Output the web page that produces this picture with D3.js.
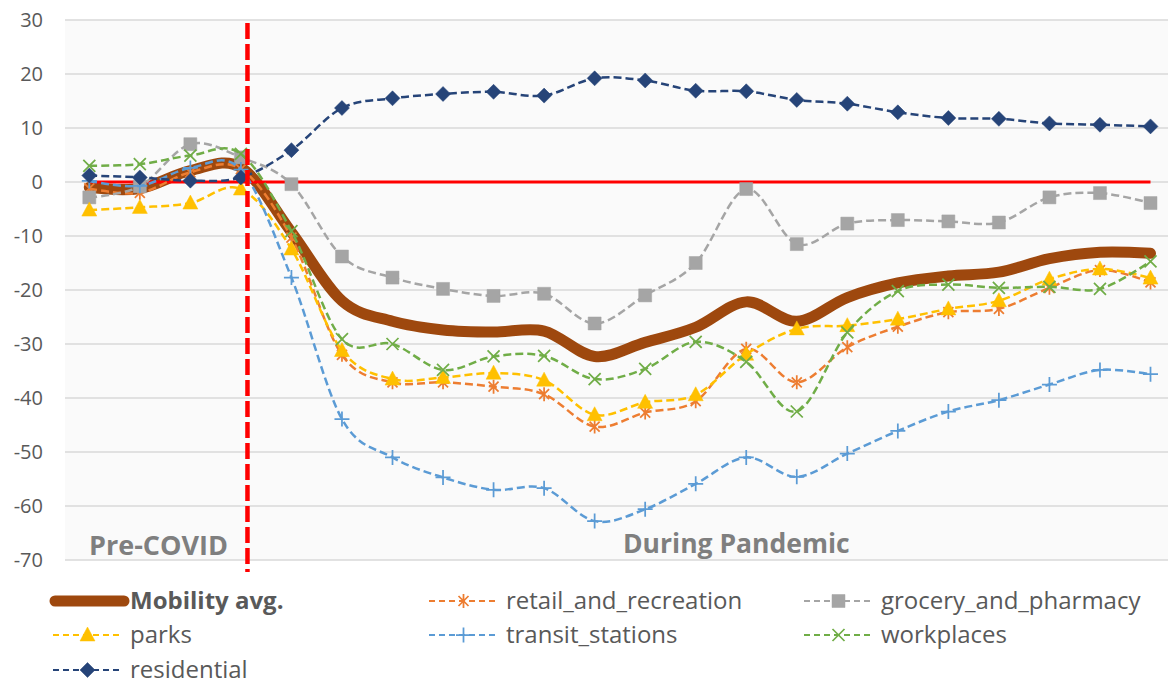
<!DOCTYPE html>
<html>
<head>
<meta charset="utf-8">
<script src="https://cdn.jsdelivr.net/npm/d3@7"></script>
<style>
  body { margin: 0; background: #fff; }
  svg { font-family: "Open Sans", sans-serif; }
</style>
</head>
<body>
<svg></svg>
<script>
// Data
var w = 1168,
    h = 684;

var periods = [1, 2, 3, 4, 5, 6, 7, 8, 9, 10, 11,
    12, 13, 14, 15, 16, 17, 18, 19, 20, 21, 22];
var yTicks = [30, 20, 10, 0, -10, -20, -30, -40, -50, -60, -70];

var mobility = [-1.0, -1.2, 2.1, 2.7, -9.3, -22.0, -25.8, -27.4, -27.8, -27.6, -32.3,
    -29.7, -26.9, -22.2, -25.8, -21.4, -18.7, -17.4, -16.7, -14.2, -13.0, -13.2];
var retail = [-1.2, -2.0, 1.8, 2.4, -10.3, -32.0, -37.1, -37.1, -37.9, -39.3, -45.3,
    -42.7, -40.6, -30.9, -37.1, -30.6, -26.8, -24.1, -23.5, -19.6, -16.3, -18.6];
var grocery = [-2.85, -0.8, 7.0, 4.55, -0.4, -13.8, -17.7, -19.8, -21.1, -20.7, -26.2,
    -21.0, -15.0, -1.3, -11.5, -7.7, -7.05, -7.3, -7.5, -2.85, -2.05, -3.9];
var parks = [-5.2, -4.7, -3.9, -1.3, -12.4, -31.2, -36.5, -36.2, -35.4, -36.7, -43.1,
    -40.8, -39.4, -31.9, -27.2, -26.6, -25.4, -23.5, -22.0, -18.0, -16.1, -17.8];
var transit = [0.2, -0.7, 2.6, 2.3, -17.7, -43.9, -51.0, -54.7, -57.0, -56.7, -62.8,
    -60.6, -55.9, -51.0, -54.6, -50.3, -46.1, -42.5, -40.4, -37.5, -34.8, -35.6];
var workplaces = [3.0, 3.3, 4.9, 5.2, -9.1, -29.1, -30.0, -34.8, -32.3, -32.2, -36.5,
    -34.6, -29.6, -33.3, -42.5, -27.85, -20.2, -19.0, -19.6, -19.4, -19.8, -14.7];
var residential = [1.2, 0.85, 0.25, 0.85, 5.9, 13.7, 15.5, 16.3, 16.7, 16.0, 19.2,
    18.8, 16.9, 16.8, 15.2, 14.5, 12.9, 11.85, 11.7, 10.85, 10.6, 10.3];
var baseline = [0, 0, 0, 0, 0, 0, 0, 0, 0, 0, 0,
    0, 0, 0, 0, 0, 0, 0, 0, 0, 0, 0];
var splitAt = 3.13; // pandemic start, between period 4 and 5

var series = [
    { name: 'retail_and_recreation', values: retail, color: '#ed7d31', marker: 'star' },
    { name: 'grocery_and_pharmacy', values: grocery, color: '#a5a5a5', marker: 'square' },
    { name: 'parks', values: parks, color: '#ffc000', marker: 'triangle' },
    { name: 'transit_stations', values: transit, color: '#5b9bd5', marker: 'plus' },
    { name: 'workplaces', values: workplaces, color: '#70ad47', marker: 'cross' },
    { name: 'residential', values: residential, color: '#264478', marker: 'diamond' }
];

var svg = d3.select('svg')
    .attr('width', w)
    .attr('height', h);

var plot = { left: 65, right: 1168, top: 20, bottom: 560 };

var xScale = d3.scaleLinear()
    .domain([0, periods.length - 1])
    .range([89.3, 1150.5]);
var yScale = d3.scaleLinear()
    .domain([-70, 30])
    .range([plot.bottom, plot.top]);

// Fondo y rejilla
svg.append('rect')
    .attr('x', plot.left)
    .attr('y', plot.top)
    .attr('width', plot.right - plot.left)
    .attr('height', plot.bottom - plot.top)
    .attr('fill', '#fafafa');

svg.selectAll('line.grid')
    .data(yTicks)
    .enter()
    .append('line')
    .attr('class', 'grid')
    .attr('x1', plot.left)
    .attr('x2', plot.right)
    .attr('y1', function(d) { return yScale(d); })
    .attr('y2', function(d) { return yScale(d); })
    .attr('stroke', '#d9d9d9')
    .attr('stroke-width', 1.5);

var yAxis = svg.append('g')
    .attr('transform', 'translate(43,0)')
    .call(d3.axisLeft(yScale)
        .tickValues(yTicks)
        .tickFormat(function(d) { return String(d); })
        .tickSize(0)
        .tickPadding(0));
yAxis.select('.domain').remove();
yAxis.selectAll('text')
    .attr('fill', '#595959')
    .style('font-size', '20px')
    .style('font-family', '"Open Sans", sans-serif');

// Lineas
var line = d3.line()
    .x(function(d, i) { return xScale(i); })
    .y(function(d) { return yScale(d); })
    .curve(d3.curveCardinal.tension(0));

svg.append('path')
    .datum(mobility)
    .attr('d', line)
    .attr('fill', 'none')
    .attr('stroke', '#9e480e')
    .attr('stroke-width', 11)
    .attr('stroke-linecap', 'round')
    .attr('stroke-linejoin', 'round');

svg.append('path')
    .datum(baseline)
    .attr('d', d3.line()
        .x(function(d, i) { return xScale(i); })
        .y(function(d) { return yScale(d); }))
    .attr('fill', 'none')
    .attr('stroke', '#ff0000')
    .attr('stroke-width', 3);

function markerPath(type) {
    switch (type) {
        case 'star': return 'M-5,-5L5,5M-5,5L5,-5M0,-7L0,7';
        case 'square': return 'M-6.5,-6.5H6.5V6.5H-6.5Z';
        case 'triangle': return 'M0,-8L7.5,6H-7.5Z';
        case 'plus': return 'M-7.5,0H7.5M0,-7.5V7.5';
        case 'cross': return 'M-6,-6L6,6M-6,6L6,-6';
        case 'diamond': return 'M0,-7.5L7.5,0L0,7.5L-7.5,0Z';
    }
}
function isFilled(type) {
    return type === 'square' || type === 'triangle' || type === 'diamond';
}
function drawMarker(g, type, color, x, y) {
    g.append('path')
        .attr('transform', 'translate(' + x + ',' + y + ')')
        .attr('d', markerPath(type))
        .attr('fill', isFilled(type) ? color : 'none')
        .attr('stroke', color)
        .attr('stroke-width', isFilled(type) ? 0.5 : 1.75);
}

series.forEach(function(s) {
    var g = svg.append('g');
    g.append('path')
        .datum(s.values)
        .attr('d', line)
        .attr('fill', 'none')
        .attr('stroke', s.color)
        .attr('stroke-width', 2.5)
        .attr('stroke-dasharray', '8,4');
    s.values.forEach(function(v, i) {
        drawMarker(g, s.marker, s.color, xScale(i), yScale(v));
    });
});

// Linea vertical del inicio de la pandemia
svg.append('line')
    .attr('x1', xScale(splitAt))
    .attr('x2', xScale(splitAt))
    .attr('y1', 23)
    .attr('y2', 572)
    .attr('stroke', '#ff0000')
    .attr('stroke-width', 4.5)
    .attr('stroke-dasharray', '16,5');

// Etiquetas de periodo
svg.append('text')
    .attr('x', 89)
    .attr('y', 555)
    .attr('fill', '#7f7f7f')
    .style('font-size', '27px')
    .style('font-weight', 'bold')
    .text('Pre-COVID');
svg.append('text')
    .attr('x', 623)
    .attr('y', 553)
    .attr('fill', '#7f7f7f')
    .style('font-size', '26.5px')
    .style('font-weight', 'bold')
    .text('During Pandemic');

// Leyenda
var legendItems = [{ name: 'Mobility avg.', color: '#9e480e', marker: null }].concat(series);
var legendCols = [53, 429, 804],
    legendRows = [601, 635, 670];

legendItems.forEach(function(d, i) {
    var lx = legendCols[i % 3],
        ly = legendRows[Math.floor(i / 3)];
    var g = svg.append('g');
    if (d.marker === null) {
        g.append('line')
            .attr('x1', lx + 2).attr('x2', lx + 71)
            .attr('y1', ly).attr('y2', ly)
            .attr('stroke', d.color)
            .attr('stroke-width', 11)
            .attr('stroke-linecap', 'round');
    } else {
        g.append('line')
            .attr('x1', lx).attr('x2', lx + 69)
            .attr('y1', ly).attr('y2', ly)
            .attr('stroke', d.color)
            .attr('stroke-width', 2)
            .attr('stroke-dasharray', '6,4');
        drawMarker(g, d.marker, d.color, lx + 34.5, ly);
    }
    g.append('text')
        .attr('x', lx + 77)
        .attr('y', ly)
        .attr('dy', '0.35em')
        .attr('fill', '#595959')
        .style('font-size', '24px')
        .style('font-weight', d.marker === null ? 'bold' : 'normal')
        .text(d.name);
});
</script>
</body>
</html>
